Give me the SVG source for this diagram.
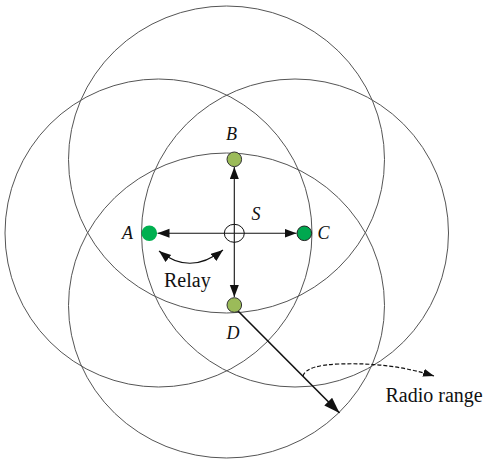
<svg xmlns="http://www.w3.org/2000/svg" width="486" height="465" viewBox="0 0 486 465">
<style>
.range{fill:none;stroke:#555;stroke-width:1}
.lbl{font-family:"Liberation Serif","Times New Roman",serif;font-style:italic;font-size:18px;fill:#111}
.txt{font-family:"Liberation Serif","Times New Roman",serif;font-size:20px;fill:#111}
.link{stroke:#111;stroke-width:1.1;fill:none}
.olive{fill:#9BBB59;stroke:#333;stroke-width:1}
</style>
<defs>
<marker id="ah" markerUnits="userSpaceOnUse" markerWidth="12" markerHeight="10" refX="12" refY="4.5" orient="auto-start-reverse">
<path d="M0,0 L12,4.5 L0,9 z" fill="#111"/>
</marker>
<marker id="ahBig" markerUnits="userSpaceOnUse" markerWidth="17" markerHeight="12" refX="16" refY="5.5" orient="auto">
<path d="M0,0 L16,5.5 L0,11 z" fill="#111"/>
</marker>
<marker id="ahDash" markerUnits="userSpaceOnUse" markerWidth="12" markerHeight="10" refX="11" refY="4" orient="auto">
<path d="M0,0 L11,4 L0,8 z" fill="#111"/>
</marker>
</defs>
<g id="ranges">
<ellipse class="range" cx="226.5" cy="159.5" rx="158" ry="153.5"/>
<ellipse class="range" cx="226.5" cy="305.5" rx="158" ry="152.5"/>
<ellipse class="range" cx="158.5" cy="233" rx="153.5" ry="154"/>
<ellipse class="range" cx="295" cy="233" rx="153.5" ry="154"/>
</g>
<g id="connectors">
<line class="link" x1="234.3" y1="233.3" x2="157.5" y2="233.3" marker-end="url(#ah)"/>
<line class="link" x1="234.3" y1="233.3" x2="296.5" y2="233.3" marker-end="url(#ah)"/>
<line class="link" x1="234.3" y1="233.3" x2="234.3" y2="167" marker-end="url(#ah)"/>
<line class="link" x1="234.3" y1="233.3" x2="234.3" y2="297" marker-end="url(#ah)"/>
<path class="link" d="M159,251 Q190,276 223,250" marker-start="url(#ah)" marker-end="url(#ah)"/>
<line x1="238" y1="311" x2="339.5" y2="413" stroke="#111" stroke-width="1.6" marker-end="url(#ahBig)"/>
<path d="M303,376 Q306,365 340,364 Q390,362 434,376" fill="none" stroke="#111" stroke-width="1.2" stroke-dasharray="4,2" marker-end="url(#ahDash)"/>
</g>
<g id="node-S">
<ellipse cx="234.3" cy="233.3" rx="10" ry="9" fill="none" stroke="#111" stroke-width="1"/>
<text class="lbl" x="251.5" y="220">S</text>
</g>
<g id="node-A">
<circle cx="149.3" cy="233.3" r="7.8" fill="#00B050"/>
<text class="lbl" x="122" y="238.5">A</text>
</g>
<g id="node-B">
<circle class="olive" cx="234.3" cy="159.3" r="7.3"/>
<text class="lbl" x="226" y="140">B</text>
</g>
<g id="node-C">
<circle cx="304.3" cy="233.3" r="7.3" fill="#00A84F" stroke="#222" stroke-width="1"/>
<text class="lbl" x="317.5" y="238.5">C</text>
</g>
<g id="node-D">
<circle class="olive" cx="234.3" cy="305" r="7.3"/>
<text class="lbl" x="226.5" y="338.5">D</text>
</g>
<text class="txt" x="164" y="287">Relay</text>
<text class="txt" x="385.5" y="402">Radio range</text>
</svg>
